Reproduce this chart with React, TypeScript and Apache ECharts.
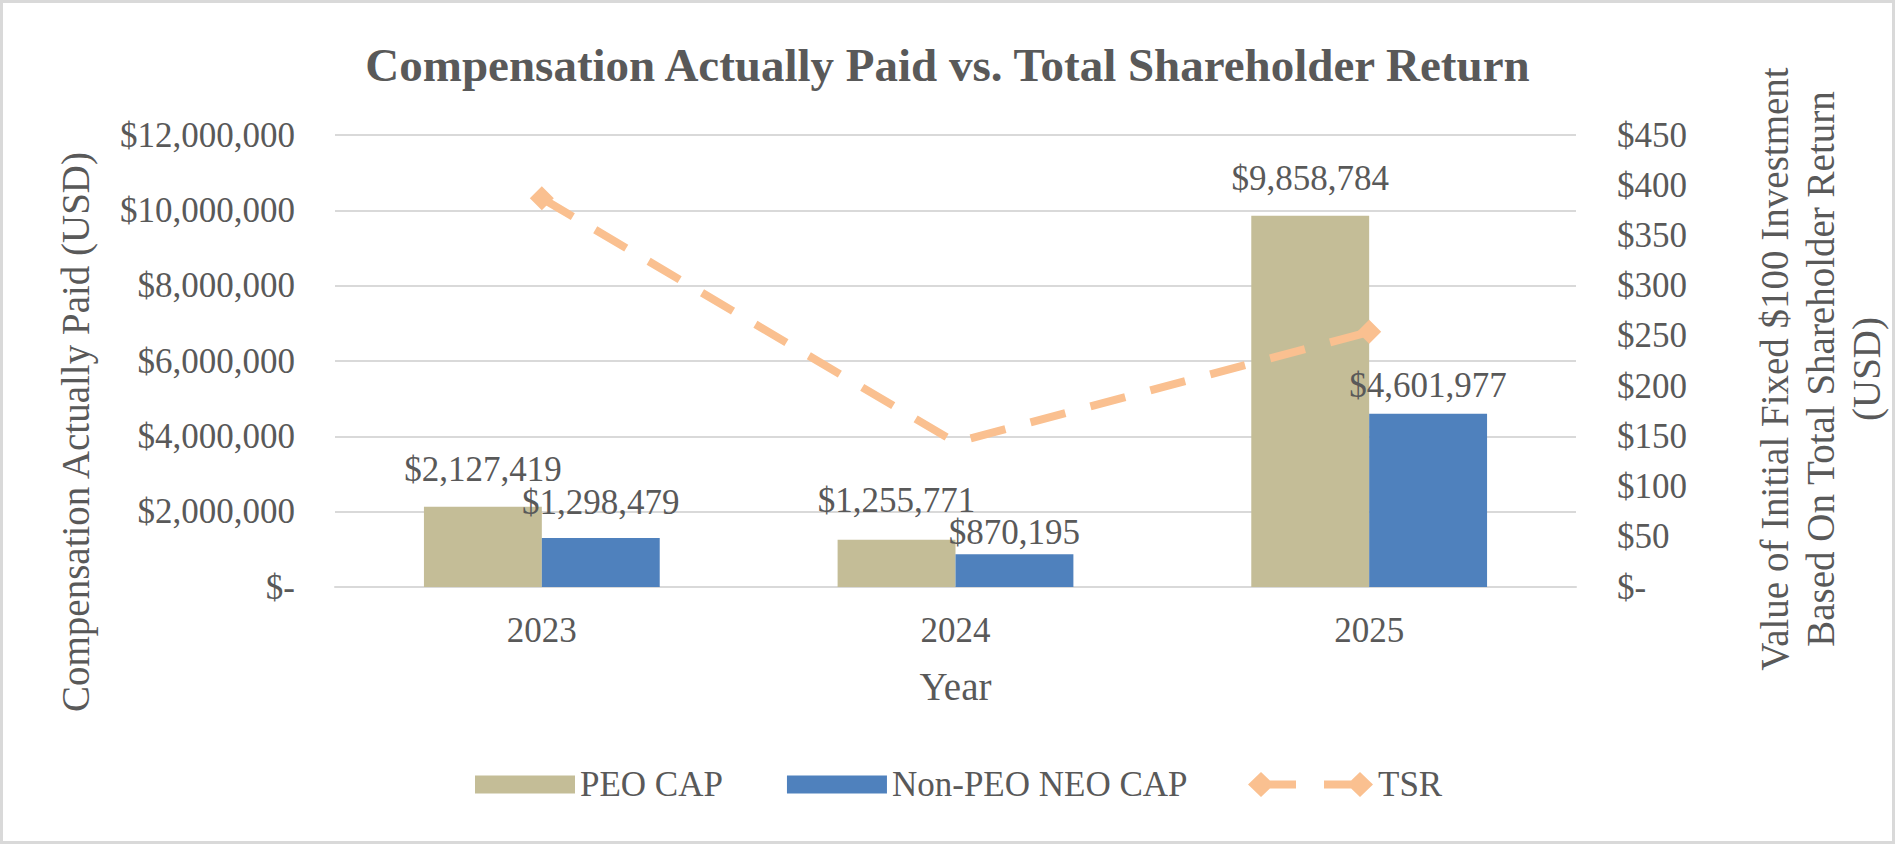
import React, { useEffect, useRef } from "react";
import * as echarts from "echarts";

const YEARS = ["2023", "2024", "2025"];
const PEO_CAP = [2127419, 1255771, 9858784];
const NON_PEO_CAP = [1298479, 870195, 4601977];
const TSR = [387, 144, 254];
const LEFT_TICKS_MAX = 12000000;
const RIGHT_TICKS_MAX = 450;

const FONT = "'Liberation Serif', 'Times New Roman', serif";
const TEXT = "#595959";
const GRID = "#D9D9D9";
const TAN = "#C4BD97";
const BLUE = "#4F81BD";
const ORANGE = "#FAC090";

const money = (v: number) => (v === 0 ? "$-" : "$" + v.toLocaleString("en-US"));

export default function App() {
  const ref = useRef<HTMLDivElement>(null);
  useEffect(() => {
    document.body.style.margin = "0";
    const chart = echarts.init(ref.current!, null, { renderer: "svg" });
    const peoGap = [20, 22, 20];
    const neoGap = [18, 4, 11];
    const labelBase = { show: true, position: "top", fontSize: 35, fontFamily: FONT, color: TEXT, formatter: (p: any) => money(p.value) };
    chart.setOption({
      animation: false,
      backgroundColor: "#fff",
      title: {
        text: "Compensation Actually Paid vs. Total Shareholder Return",
        left: "center",
        top: 36,
        textStyle: { fontSize: 47, fontWeight: "bold", fontFamily: FONT, color: TEXT },
      },
      grid: { left: 335, right: 319, top: 135, bottom: 257, containLabel: false },
      legend: [
        {
          data: ["PEO CAP", "Non-PEO NEO CAP"],
          left: 475,
          top: 767,
          padding: 0,
          itemWidth: 100,
          itemHeight: 18,
          itemGap: 64,
          selectedMode: false,
          icon: "rect",
          textStyle: { fontSize: 35, fontFamily: FONT, color: TEXT },
        },
        {
          data: [
            {
              name: "TSR",
              icon: "path://M0,12.5L13,0L26,12.5L13,25Z M20,8.5H48V16.5H20Z M76,8.5H105V16.5H76Z M99,12.5L112,0L125,12.5L112,25Z",
            },
          ],
          left: 1248,
          top: 767,
          padding: 0,
          itemWidth: 125,
          itemHeight: 25,
          selectedMode: false,
          textStyle: { fontSize: 35, fontFamily: FONT, color: TEXT },
        },
      ],
      xAxis: {
        type: "category",
        data: YEARS,
        axisLine: { lineStyle: { color: GRID, width: 2 } },
        axisTick: { show: false },
        axisLabel: { fontSize: 35, fontFamily: FONT, color: TEXT, margin: 26 },
        name: "Year",
        nameLocation: "middle",
        nameGap: 80,
        nameTextStyle: { fontSize: 39, fontFamily: FONT, color: TEXT },
      },
      yAxis: [
        {
          type: "value",
          min: 0,
          max: LEFT_TICKS_MAX,
          interval: 2000000,
          axisLine: { show: false },
          axisTick: { show: false },
          splitLine: { lineStyle: { color: GRID, width: 2 } },
          axisLabel: { fontSize: 35, fontFamily: FONT, color: TEXT, margin: 40, formatter: (v: number) => money(v) },
        },
        {
          type: "value",
          min: 0,
          max: RIGHT_TICKS_MAX,
          interval: 50,
          axisLine: { show: false },
          axisTick: { show: false },
          splitLine: { show: false },
          axisLabel: { fontSize: 35, fontFamily: FONT, color: TEXT, margin: 41, formatter: (v: number) => money(v) },
        },
      ],
      series: [
        {
          name: "PEO CAP",
          type: "bar",
          data: PEO_CAP.map((v, i) => ({ value: v, label: { distance: peoGap[i] } })),
          itemStyle: { color: TAN },
          barGap: "0%",
          barCategoryGap: "43%",
          label: labelBase,
          z: 2,
        },
        {
          name: "Non-PEO NEO CAP",
          type: "bar",
          data: NON_PEO_CAP.map((v, i) => ({ value: v, label: { distance: neoGap[i] } })),
          itemStyle: { color: BLUE },
          barGap: "0%",
          barCategoryGap: "43%",
          label: labelBase,
          z: 2,
        },
        {
          name: "TSR",
          type: "line",
          yAxisIndex: 1,
          data: TSR.map((v, i) => (i === 1 ? { value: v, symbol: "none" } : v)),
          symbol: "diamond",
          symbolSize: 24,
          itemStyle: { color: ORANGE },
          lineStyle: { color: ORANGE, width: 8, type: [36, 26] },
          z: 5,
        },
      ],
      graphic: [
        {
          type: "rect",
          shape: { x: 1.5, y: 1.5, width: 1892, height: 841 },
          style: { fill: "none", stroke: GRID, lineWidth: 3 },
          silent: true,
        },
        {
          type: "text",
          x: 75,
          y: 432,
          rotation: Math.PI / 2,
          style: {
            text: "Compensation Actually Paid (USD)",
            fontSize: 39,
            fontFamily: FONT,
            fill: TEXT,
            align: "center",
            verticalAlign: "middle",
            textAlign: "center",
            textVerticalAlign: "middle",
          },
        },
        {
          type: "text",
          x: 1820,
          y: 369,
          rotation: Math.PI / 2,
          style: {
            text: "Value of Initial Fixed $100 Investment\nBased On Total Shareholder Return\n(USD)",
            fontSize: 39,
            lineHeight: 46,
            fontFamily: FONT,
            fill: TEXT,
            align: "center",
            verticalAlign: "middle",
            textAlign: "center",
            textVerticalAlign: "middle",
          },
        },
      ],
    });
    return () => chart.dispose();
  }, []);
  return <div ref={ref} style={{ width: 1895, height: 844 }} />;
}
